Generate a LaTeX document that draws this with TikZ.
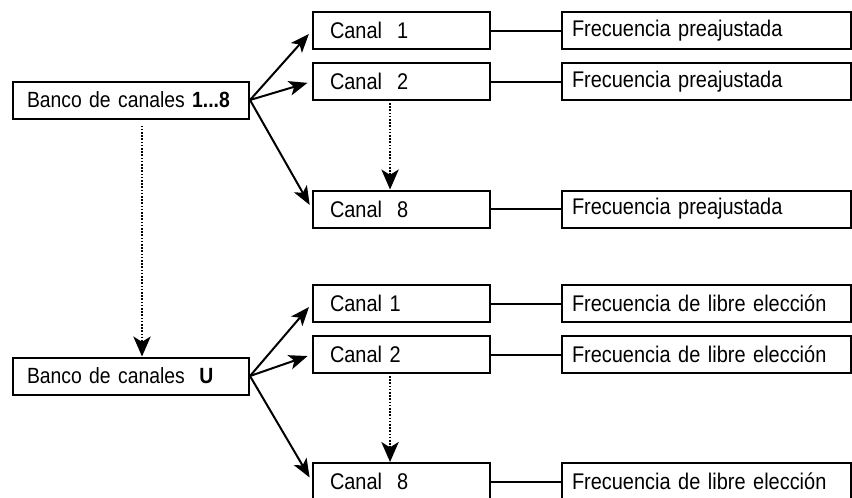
\documentclass[tikz,border=0pt]{standalone}
\usepackage{fontspec}
\setmainfont[FakeStretch=0.88]{Liberation Sans}
\usetikzlibrary{arrows.meta}

\tikzset{
  box/.style={draw, rectangle, line width=1.5pt, minimum height=27.75pt,
    align=left, font=\fontsize{17}{20}\selectfont},
  bancobox/.style={box, text width=156pt, inner xsep=10.5pt, font=\fontsize{16.5}{19}\selectfont},
  canalbox/.style={box, text width=107.25pt, inner xsep=12.75pt},
  freqbox/.style={box, text width=201.75pt, inner xsep=7.5pt},
  link/.style={line width=1.5pt},
  branch/.style={line width=1.5pt, -{Stealth[length=14pt,width=11pt,inset=3.5pt]},
    shorten >=3.5pt},
  dotlink/.style={line width=1.4pt, dash pattern=on 1.2pt off 1.2pt,
    -{Stealth[length=15pt,width=13pt,inset=4pt]}}
}

\begin{document}
\begin{tikzpicture}[x=0.75pt, y=-0.75pt]
    \useasboundingbox (0,0) rectangle (852,497);

    % Bank 1...8
    \node[bancobox] (bankA) at (131,100) {Banco de canales \textbf{1...8}};
    \node[canalbox] (chA1) at (401.5,30.5) {Canal\ \ 1};
    \node[canalbox] (chA2) at (401.5,81.5) {Canal\ \ 2};
    \node[canalbox] (chA8) at (401.5,209) {Canal\ \ 8};
    \node[freqbox] (frA1) at (706.5,30.5) {Frecuencia preajustada};
    \node[freqbox] (frA2) at (706.5,81.5) {Frecuencia preajustada};
    \node[freqbox] (frA8) at (706.5,209) {Frecuencia preajustada};

    % Bank U
    \node[bancobox] (bankU) at (131,376) {Banco de canales\ \ \textbf{U}};
    \node[canalbox] (chU1) at (401.5,303.5) {Canal 1};
    \node[canalbox] (chU2) at (401.5,354.5) {Canal 2};
    \node[canalbox] (chU8) at (401.5,481.5) {Canal\ \ 8};
    \node[freqbox] (frU1) at (706.5,303.5) {Frecuencia de libre elección};
    \node[freqbox] (frU2) at (706.5,354.5) {Frecuencia de libre elección};
    \node[freqbox] (frU8) at (706.5,481.5) {Frecuencia de libre elección};

    % Branches
    \draw[branch] (bankA.east) -- (chA1.west);
    \draw[branch] (bankA.east) -- (chA2.west);
    \draw[branch] (bankA.east) -- (chA8.west);
    \draw[branch] (bankU.east) -- (chU1.west);
    \draw[branch] (bankU.east) -- (chU2.west);
    \draw[branch] (bankU.east) -- (chU8.west);

    % Channel to frequency
    \draw[link] (chA1.east) -- (frA1.west);
    \draw[link] (chA2.east) -- (frA2.west);
    \draw[link] (chA8.east) -- (frA8.west);
    \draw[link] (chU1.east) -- (frU1.west);
    \draw[link] (chU2.east) -- (frU2.west);
    \draw[link] (chU8.east) -- (frU8.west);

    % Dotted continuations
    \draw[dotlink] ([xshift=8.25pt,yshift=-4.5pt]bankA.south) -- ([xshift=8.25pt]bankU.north);
    \draw[dotlink] ([xshift=-8.6pt,yshift=-1.5pt]chA2.south) -- ([xshift=-8.6pt]chA8.north);
    \draw[dotlink] ([xshift=-8.6pt,yshift=-1.5pt]chU2.south) -- ([xshift=-8.6pt]chU8.north);
\end{tikzpicture}
\end{document}
